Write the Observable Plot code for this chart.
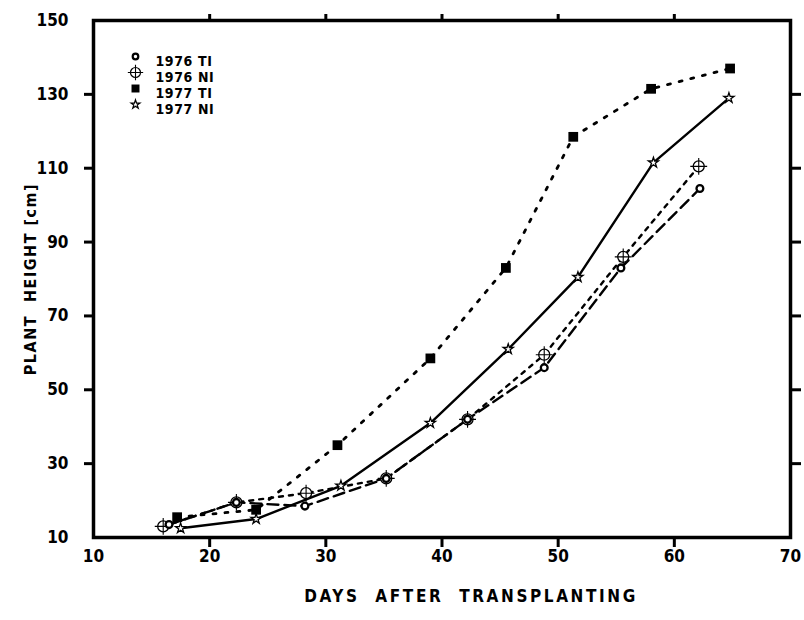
<!DOCTYPE html>
<html>
<head>
<meta charset="utf-8">
<script src="https://cdn.jsdelivr.net/npm/d3@7"></script>
<script src="https://cdn.jsdelivr.net/npm/@observablehq/plot@0.6"></script>
<style>
  html, body { margin: 0; padding: 0; background: #fff; }
  #chart svg { display: block; }
</style>
</head>
<body>
<div id="chart"></div>
<script>
// Data (x = days after transplanting, y = plant height cm)
const seriesNames = ["1976 TI", "1976 NI", "1977 TI", "1977 NI"];
const days1976TI = [16.5, 22.3, 28.2, 35.2, 42.2, 48.8, 55.4, 62.2];
const height1976TI = [13.5, 19.5, 18.5, 26, 42, 56, 83, 104.5];
const days1976NI = [16, 22.3, 28.3, 35.2, 42.2, 48.8, 55.6, 62.1];
const height1976NI = [13, 19.5, 22, 26, 42, 59.5, 86, 110.5];
const days1977TI = [17.2, 24, 31, 39, 45.5, 51.3, 58, 64.8];
const height1977TI = [15.5, 17.5, 35, 58.5, 83, 118.5, 131.5, 137];
const days1977NI = [17.5, 24, 31.3, 39, 45.7, 51.7, 58.2, 64.7];
const height1977NI = [12.5, 15, 24, 41, 61, 80.5, 111.5, 129];
const xTickLabels = [10, 20, 30, 40, 50, 60, 70];
const yTickLabels = [10, 30, 50, 70, 90, 110, 130, 150];
const xTickMarks = [20, 30, 40, 50, 60];
const yTickMarks = [30, 50, 70, 90, 110, 130];
const xTitle = "DAYS\u00a0\u00a0AFTER\u00a0\u00a0TRANSPLANTING";
const yTitle = "PLANT\u00a0\u00a0HEIGHT\u00a0[cm]";

const toRows = (xs, ys) => xs.map((x, i) => ({x, y: ys[i]}));
const d76TI = toRows(days1976TI, height1976TI);
const d76NI = toRows(days1976NI, height1976NI);
const d77TI = toRows(days1977TI, height1977TI);
const d77NI = toRows(days1977NI, height1977NI);

const FONT = "DejaVu Sans Condensed, DejaVu Sans, sans-serif";

const legendRow = (i) => 36 + i * 16;
const legendMarks = [];
const markerStyles = [
  {symbol: "circle", r: 3.4, fill: "white", stroke: "black", strokeWidth: 2.3},
  {symbol: "circle", r: 5.5, fill: "white", stroke: "black", strokeWidth: 1.3},
  {symbol: "square", r: 5.5, fill: "black", stroke: "black", strokeWidth: 0},
  {symbol: "star", r: 3.2, fill: "white", stroke: "black", strokeWidth: 1.3}
];
const legendStyles = [
  {symbol: "circle", r: 2.8, fill: "white", stroke: "black", strokeWidth: 2.2},
  {symbol: "circle", r: 5, fill: "white", stroke: "black", strokeWidth: 1.2},
  {symbol: "square", r: 4.5, fill: "black", stroke: "black", strokeWidth: 0},
  {symbol: "star", r: 2.8, fill: "white", stroke: "black", strokeWidth: 1.2}
];
seriesNames.forEach((name, i) => {
  legendMarks.push(Plot.dot([name], {frameAnchor: "top-left", dx: 42, dy: legendRow(i), ...legendStyles[i]}));
  if (i === 1) legendMarks.push(Plot.dot([name], {frameAnchor: "top-left", dx: 42, dy: legendRow(i), symbol: "plus", r: 5, stroke: "black", strokeWidth: 1.1}));
  legendMarks.push(Plot.text([name], {frameAnchor: "top-left", dx: 62, dy: legendRow(i), text: d => d, textAnchor: "start", fontSize: 14, fontWeight: "bold", fill: "black"}));
});

const chart = Plot.plot({
  width: 804,
  height: 620,
  marginLeft: 93,
  marginRight: 14,
  marginTop: 20,
  marginBottom: 83,
  style: {fontFamily: FONT, background: "white", color: "black"},
  x: {domain: [10, 70]},
  y: {domain: [10, 150]},
  marks: [
    // left axis: tick marks + labels
    Plot.axisY({anchor: "left", ticks: yTickMarks, tickSize: 9, strokeWidth: 3, tickFormat: () => "", label: null}),
    Plot.axisY({anchor: "left", ticks: yTickLabels, tickSize: 0, tickPadding: 25, fontSize: 17, fontWeight: "bold", label: null}),
    // right axis ticks (outward)
    Plot.axisY({anchor: "right", ticks: yTickMarks, tickSize: 10, strokeWidth: 3, tickFormat: () => "", label: null}),
    // bottom axis
    Plot.axisX({anchor: "bottom", ticks: xTickMarks, tickSize: 10, strokeWidth: 3, tickFormat: () => "", label: null}),
    Plot.axisX({anchor: "bottom", ticks: xTickLabels, tickSize: 0, tickPadding: 12, fontSize: 17, fontWeight: "bold", label: null}),
    // top axis ticks
    Plot.axisX({anchor: "top", ticks: xTickMarks, tickSize: 7, strokeWidth: 3, tickFormat: () => "", label: null}),
    Plot.frame({stroke: "black", strokeWidth: 3.5}),
    // lines
    Plot.line(d76TI, {x: "x", y: "y", stroke: "black", strokeWidth: 2.4, strokeDasharray: "11,6"}),
    Plot.line(d76NI, {x: "x", y: "y", stroke: "black", strokeWidth: 2.4, strokeDasharray: "4,6"}),
    Plot.line(d77TI, {x: "x", y: "y", stroke: "black", strokeWidth: 2.8, strokeDasharray: "3,9"}),
    Plot.line(d77NI, {x: "x", y: "y", stroke: "black", strokeWidth: 2.4}),
    // points
    Plot.dot(d76NI, {x: "x", y: "y", ...markerStyles[1]}),
    Plot.dot(d76NI, {x: "x", y: "y", symbol: "plus", r: 5.5, stroke: "black", strokeWidth: 1.1}),
    Plot.dot(d76TI, {x: "x", y: "y", ...markerStyles[0]}),
    Plot.dot(d77TI, {x: "x", y: "y", ...markerStyles[2]}),
    Plot.dot(d77NI, {x: "x", y: "y", ...markerStyles[3]}),
    // axis titles
    Plot.text([xTitle], {frameAnchor: "bottom", dx: 29, dy: 64, text: d => d, textAnchor: "middle", fontSize: 17, fontWeight: "bold", fill: "black"}),
    Plot.text([yTitle], {frameAnchor: "left", dx: -63, text: d => d, textAnchor: "middle", rotate: -90, fontSize: 16, fontWeight: "bold", fill: "black"}),
    ...legendMarks
  ]
});
// letter spacing for the axis titles and legend labels
d3.select(chart).selectAll("text").each(function () {
  const t = this.textContent;
  if (t === xTitle) d3.select(this).style("letter-spacing", "2.6px");
  else if (t === yTitle) d3.select(this).style("letter-spacing", "1.5px");
  else if (seriesNames.includes(t)) d3.select(this).style("letter-spacing", "0.6px");
});
document.getElementById("chart").appendChild(chart);
</script>
</body>
</html>
